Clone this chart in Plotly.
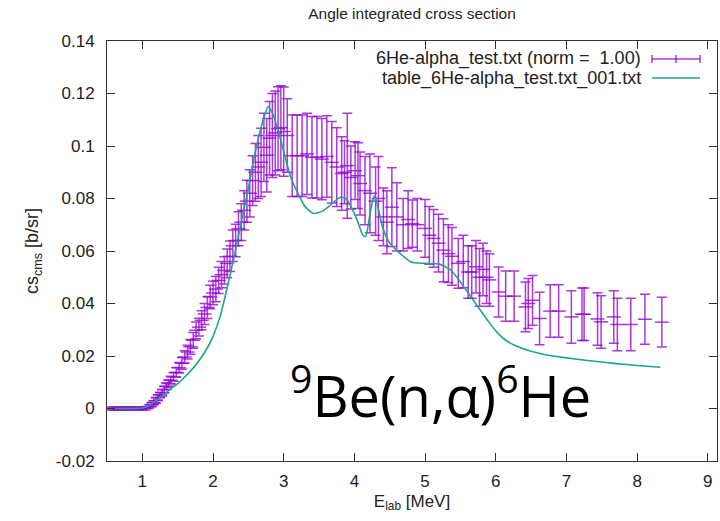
import plotly.graph_objects as go

# ---- data ----
exp_x = [0.55, 0.60, 0.65, 0.70, 0.75, 0.80, 0.85, 0.90, 0.95, 1.00, 1.05,
         1.10, 1.13, 1.16, 1.19, 1.22, 1.25, 1.28, 1.31, 1.34, 1.37, 1.40, 1.44, 1.48,
         1.52, 1.56, 1.60, 1.64, 1.68, 1.72, 1.76, 1.80, 1.84, 1.88, 1.92, 1.96, 2.00,
         2.04, 2.08, 2.12, 2.16, 2.20, 2.24, 2.28, 2.32, 2.36, 2.40, 2.44, 2.48, 2.52,
         2.56, 2.60, 2.64, 2.68, 2.72, 2.76, 2.80, 2.84, 2.88, 2.92, 2.96, 3.00, 3.05,
         3.12, 3.19, 3.26, 3.33, 3.40, 3.47, 3.54, 3.61, 3.68, 3.75, 3.82, 3.86, 3.90,
         3.95, 4.01, 4.05, 4.08, 4.15, 4.22, 4.30, 4.34, 4.41, 4.46, 4.53, 4.60, 4.69,
         4.76, 4.82, 4.89, 5.00, 5.06, 5.12, 5.19, 5.26, 5.33, 5.38, 5.47, 5.54, 5.61,
         5.66, 5.72, 5.77, 5.82, 5.87, 5.91, 6.04, 6.14, 6.26, 6.42, 6.46, 6.52, 6.62,
         6.77, 6.89, 7.07, 7.22, 7.25, 7.44, 7.49, 7.67, 7.72, 7.91, 8.11, 8.35]
exp_y = [0, 0, 0, 0, 0, 0, 0, 0, 0, 0, 0,
         0.0008, 0.0015, 0.0022, 0.0030, 0.0042, 0.0052, 0.0060, 0.0072, 0.0085, 0.0095, 0.0108, 0.0120, 0.0138,
         0.0155, 0.0172, 0.0196, 0.0215, 0.0235, 0.0260, 0.0298, 0.0310, 0.0336, 0.0360, 0.0385, 0.0425, 0.0440,
         0.0455, 0.0488, 0.0510, 0.0526, 0.0553, 0.0580, 0.0620, 0.0640, 0.0685, 0.0710, 0.0755, 0.0790, 0.0820,
         0.0868, 0.0900, 0.0920, 0.0938, 0.0995, 0.0965, 0.1030, 0.1040, 0.1050, 0.1066, 0.1070, 0.1055, 0.1040,
         0.0963, 0.0963, 0.0963, 0.0970, 0.0957, 0.0957, 0.0950, 0.0960, 0.0938, 0.0920, 0.0895, 0.0900, 0.0925,
         0.0880, 0.0906, 0.0887, 0.0857, 0.0830, 0.0820, 0.0790, 0.0800, 0.0730, 0.0710, 0.0767, 0.0730, 0.0700,
         0.0720, 0.0704, 0.0700, 0.0686, 0.0660, 0.0648, 0.0630, 0.0603, 0.0590, 0.0580, 0.0553, 0.0560, 0.0520,
         0.0520, 0.0540, 0.0500, 0.0530, 0.0500, 0.0490, 0.0444, 0.0428, 0.0428, 0.0387, 0.0400, 0.0412, 0.0343,
         0.0371, 0.0371, 0.0349, 0.0359, 0.0359, 0.0341, 0.0330, 0.0349, 0.0320, 0.0320, 0.0340, 0.0329]
exp_err = [0.0006] * 11 + [
         0.0006, 0.0008, 0.0008, 0.0010, 0.0010, 0.0010, 0.0012, 0.0012, 0.0013, 0.0014, 0.0015, 0.0016, 0.0018,
         0.0020, 0.0022, 0.0024, 0.0026, 0.0028, 0.0030, 0.0032, 0.0034, 0.0036, 0.0040, 0.0042, 0.0045, 0.0045,
         0.0048, 0.0050, 0.0050, 0.0052, 0.0055, 0.0058, 0.0060, 0.0062, 0.0065, 0.0070, 0.0075, 0.0080, 0.0090,
         0.0095, 0.0110, 0.0120, 0.0130, 0.0130, 0.0140, 0.0140, 0.0160, 0.0160, 0.0160, 0.0160, 0.0170, 0.0140,
         0.0155, 0.0155, 0.0155, 0.0155, 0.0155, 0.0155, 0.0155, 0.0155, 0.0155, 0.0150, 0.0140, 0.0120, 0.0200,
         0.0120, 0.0110, 0.0125, 0.0120, 0.0130, 0.0150, 0.0130, 0.0160, 0.0110, 0.0120, 0.0150, 0.0130, 0.0100,
         0.0110, 0.0090, 0.0100, 0.0110, 0.0110, 0.0110, 0.0110, 0.0120, 0.0110, 0.0110, 0.0095, 0.0100, 0.0100,
         0.0100, 0.0100, 0.0110, 0.0100, 0.0100, 0.0100, 0.0095, 0.0096, 0.0096, 0.0095, 0.0095, 0.0095, 0.0100,
         0.0100, 0.0100, 0.0100, 0.0100, 0.0100, 0.0100, 0.0100, 0.0100, 0.0100, 0.0100, 0.0095, 0.0095]

calc_x = [0.5, 0.8, 1.0, 1.1, 1.2, 1.3, 1.4, 1.5, 1.6, 1.7, 1.8, 1.9, 2.0, 2.1, 2.2, 2.3,
          2.4, 2.5, 2.6, 2.7, 2.78, 2.85, 2.92, 3.0, 3.1, 3.2, 3.3, 3.42, 3.55, 3.66,
          3.8, 3.88, 3.95, 4.05, 4.12, 4.16, 4.22, 4.28, 4.33, 4.4, 4.5, 4.65, 4.8,
          5.0, 5.2, 5.35, 5.45, 5.55, 5.65, 5.78, 5.9, 6.02, 6.15, 6.3, 6.5, 6.7, 7.0,
          7.3, 7.7, 8.0, 8.33]
calc_y = [0, 0, 0.0002, 0.0012, 0.0032, 0.0053, 0.0075, 0.0095, 0.012, 0.0148, 0.0182, 0.0222,
          0.0275, 0.035, 0.046, 0.058, 0.071, 0.084, 0.098, 0.109, 0.115, 0.112, 0.106,
          0.098, 0.088, 0.082, 0.077, 0.0743, 0.0752, 0.0775, 0.0805, 0.080, 0.077, 0.071,
          0.066, 0.0655, 0.074, 0.081, 0.077, 0.069, 0.063, 0.059, 0.0558, 0.0553, 0.055,
          0.053, 0.050, 0.0463, 0.0425, 0.0375, 0.033, 0.029, 0.0258, 0.0237, 0.0218,
          0.0205, 0.0193, 0.0183, 0.0171, 0.0164, 0.0157]

x_ticks = [1, 2, 3, 4, 5, 6, 7, 8, 9]
y_ticks = [-0.02, 0, 0.02, 0.04, 0.06, 0.08, 0.1, 0.12, 0.14]
y_tick_labels = ["-0.02", "0", "0.02", "0.04", "0.06", "0.08", "0.1", "0.12", "0.14"]

exp_name = "6He-alpha_test.txt (norm =  1.00)"
calc_name = "table_6He-alpha_test.txt_001.txt"

PURPLE = "rgba(148,0,211,0.78)"
GREEN = "#1aa886"
FONT = "Liberation Sans"

fig = go.Figure()
fig.add_trace(go.Scatter(
    x=exp_x, y=exp_y, mode="markers", name=exp_name, showlegend=False,
    marker=dict(symbol="line-ew", size=10, color=PURPLE,
                line=dict(color=PURPLE, width=1.5)),
    error_y=dict(type="data", array=exp_err, visible=True,
                 color=PURPLE, thickness=1.5, width=5),
))
fig.add_trace(go.Scatter(
    x=calc_x, y=calc_y, mode="lines", name=calc_name, showlegend=False,
    line=dict(color=GREEN, width=1.6, shape="spline", smoothing=0.6),
))

# manual gnuplot-style key (text right-aligned, sample on the right)
L, R, T, B = 107, 717, 41, 461
def px(xp):
    return (xp - L) / (R - L)
def py(yp):
    return (B - yp) / (B - T)

key_rows = [(exp_name, 59), (calc_name, 78)]
for txt, yy in key_rows:
    fig.add_annotation(x=px(643), y=py(yy), xref="paper", yref="paper",
                       text=txt, showarrow=False, xanchor="right", yanchor="middle",
                       font=dict(family=FONT, size=18, color="#222"))
# errorbar sample
ys = py(key_rows[0][1])
fig.add_shape(type="line", xref="paper", yref="paper", x0=px(652), x1=px(700), y0=ys, y1=ys,
              line=dict(color=PURPLE, width=1.5))
for xx in (652, 700, 676):
    fig.add_shape(type="line", xref="paper", yref="paper", x0=px(xx), x1=px(xx),
                  y0=py(key_rows[0][1] - 4), y1=py(key_rows[0][1] + 4),
                  line=dict(color=PURPLE, width=1.5))
yl = py(key_rows[1][1])
fig.add_shape(type="line", xref="paper", yref="paper", x0=px(652), x1=px(700), y0=yl, y1=yl,
              line=dict(color=GREEN, width=1.6))

# big reaction label
fig.add_annotation(x=px(440), y=py(392), xref="paper", yref="paper",
                   text="<sup>9</sup>Be(n,α)<sup>6</sup>He", showarrow=False,
                   xanchor="center", yanchor="middle",
                   font=dict(family="Open Sans", size=56, color="black"))

axis_common = dict(showline=True, linecolor="#333", linewidth=1, mirror="ticks",
                   ticks="inside", ticklen=8, tickcolor="#333", tickwidth=1,
                   showgrid=False, zeroline=False,
                   tickfont=dict(family=FONT, size=17, color="#222"))

fig.update_layout(
    width=720, height=521,
    margin=dict(l=L, r=720 - R, t=T, b=521 - B),
    paper_bgcolor="white", plot_bgcolor="white",
    title=dict(text="Angle integrated cross section", x=px(412), xref="paper",
               xanchor="center", y=1 - 14 / 521, yanchor="middle",
               font=dict(family=FONT, size=15.5, color="#222")),
    xaxis=dict(range=[0.5, 9.13], tickvals=x_ticks, ticklabelstandoff=5,
               title=dict(text="E<sub>lab</sub> [MeV]", standoff=4,
                          font=dict(family=FONT, size=17, color="#222")),
               **axis_common),
    yaxis=dict(range=[-0.02, 0.14], tickvals=y_ticks, ticktext=y_tick_labels,
               ticklabelstandoff=8,
               title=dict(text="cs<sub>cms</sub> [b/sr]", standoff=12,
                          font=dict(family=FONT, size=18, color="#222")),
               **axis_common),
    showlegend=False,
)

fig.write_html("out.html")
